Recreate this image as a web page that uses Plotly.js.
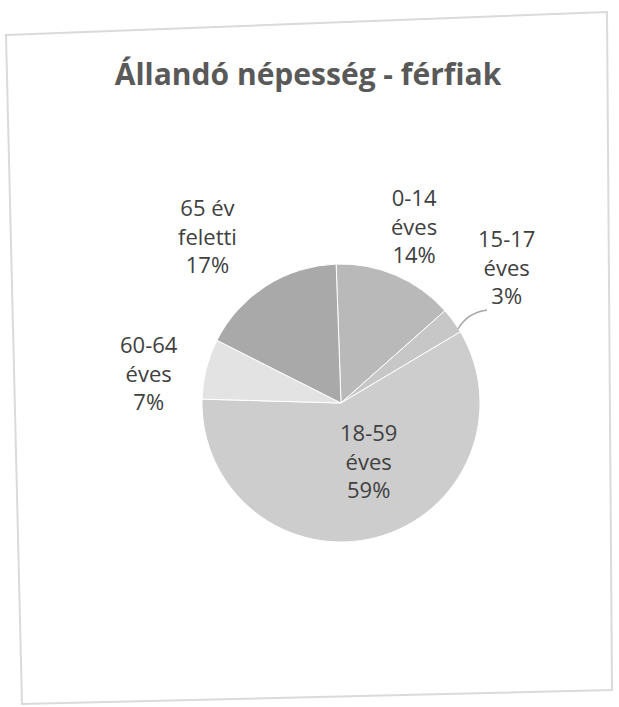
<!DOCTYPE html>
<html>
<head>
<meta charset="utf-8">
<script src="https://cdn.plot.ly/plotly-3.0.1.min.js"></script>
<style>html,body{margin:0;padding:0;background:#fff;}#chart{width:619px;height:707px;}</style>
</head>
<body>
<div id="chart"></div>
<script>
// Data
const categories = ["0-14 éves", "15-17 éves", "18-59 éves", "60-64 éves", "65 év feletti"];
const labelLine1 = ["0-14", "15-17", "18-59", "60-64", "65 év"];
const labelLine2 = ["éves", "éves", "éves", "éves", "feletti"];
const shares = [14, 3, 59, 7, 17];
const chartTitle = "Állandó népesség - férfiak";

// Styling / layout
const W = 619, H = 707;
const sliceColors = ["#b9b9b9", "#c7c7c7", "#cdcdcd", "#e3e3e3", "#a9a9a9"];
const labelPos = [[414, 226], [506, 266], [368, 460], [149, 372], [207, 236]];
const px = (x) => x / W;
const py = (y) => 1 - y / H;

const trace = {
  type: "pie",
  labels: categories,
  values: shares,
  sort: false,
  direction: "clockwise",
  rotation: -2,
  textinfo: "none",
  hoverinfo: "none",
  marker: { colors: sliceColors, line: { color: "#ffffff", width: 1 } },
  domain: { x: [px(341 - 139), px(341 + 139)], y: [py(403 + 139), py(403 - 139)] },
  showlegend: false
};

const annotations = categories.map((c, i) => ({
  xref: "paper", yref: "paper",
  x: px(labelPos[i][0]), y: py(labelPos[i][1]),
  xanchor: "center", yanchor: "middle",
  showarrow: false,
  align: "center",
  text: labelLine1[i] + "<br>" + labelLine2[i] + "<br>" + shares[i] + "%",
  font: { family: "Open Sans, sans-serif", size: 22, color: "#404040" }
}));

function pathPx(points, close) {
  return points.map((p, i) => (i ? "L " : "M ") + px(p[0]) + " " + py(p[1])).join(" ") + (close ? " Z" : "");
}

const shapes = [
  {
    type: "path", xref: "paper", yref: "paper",
    path: pathPx([[6, 35], [607, 12], [612, 690], [22, 704]], true),
    line: { color: "#dadada", width: 2 }, fillcolor: "rgba(0,0,0,0)"
  },
  {
    type: "path", xref: "paper", yref: "paper",
    path: "M " + px(458) + " " + py(329) + " Q " + px(467) + " " + py(313) + " " + px(487) + " " + py(310),
    line: { color: "#a6a6a6", width: 1.5 }
  }
];

const layout = {
  width: W, height: H,
  margin: { l: 0, r: 0, t: 0, b: 0 },
  paper_bgcolor: "#ffffff",
  title: {
    text: "<b>" + chartTitle + "</b>",
    x: px(308), xanchor: "center",
    y: py(74), yanchor: "middle",
    font: { family: "Open Sans, sans-serif", size: 30, color: "#595959" }
  },
  annotations: annotations,
  shapes: shapes
};

Plotly.newPlot("chart", [trace], layout, { staticPlot: true, displayModeBar: false });
</script>
</body>
</html>
